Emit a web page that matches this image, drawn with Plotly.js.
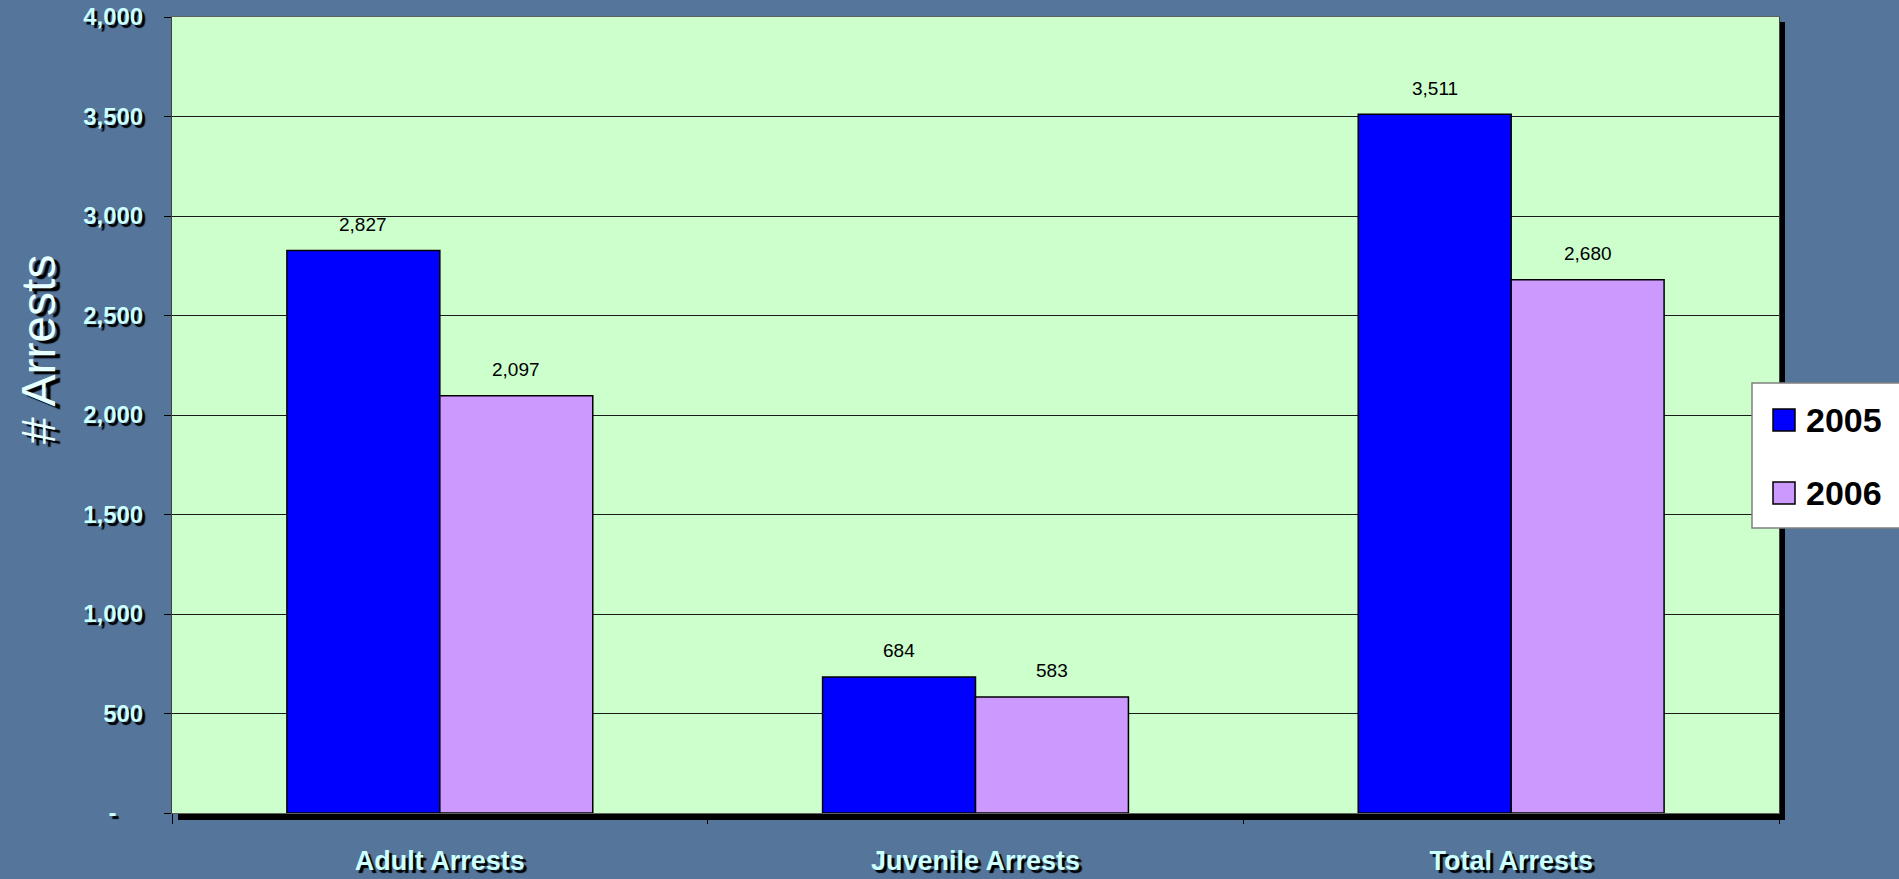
<!DOCTYPE html>
<html>
<head>
<meta charset="utf-8">
<script src="https://cdn.plot.ly/plotly-3.0.1.min.js"></script>
<style>
  html, body { margin: 0; padding: 0; background: #55759b; }
  #chart { width: 1899px; height: 879px; }
</style>
</head>
<body>
<div id="chart"></div>
<script>
// ---- data ----
const categories = ['Adult Arrests', 'Juvenile Arrests', 'Total Arrests'];
const seriesNames = ['2005', '2006'];
const arrests2005 = [2827, 684, 3511];
const arrests2006 = [2097, 583, 2680];
const seriesColors = ['#0000ff', '#cc99ff'];
const yTickVals = [0, 500, 1000, 1500, 2000, 2500, 3000, 3500, 4000];
const yTickText = ['-\u00a0\u00a0\u00a0\u00a0', '500', '1,000', '1,500', '2,000', '2,500', '3,000', '3,500', '4,000'];
const yTitle = '# Arrests';

// ---- geometry ----
const W = 1899, H = 879;
const M = { l: 172, r: 120, t: 17, b: 66 };
const plotW = W - M.l - M.r, plotH = H - M.t - M.b;
const bargap = 0.429;
const px = x => (x - M.l) / plotW;      // pixel -> paper x
const py = y => (H - M.b - y) / plotH;  // pixel -> paper y

const seriesValues = [arrests2005, arrests2006];
const fmt = v => v.toLocaleString('en-US');
const FONT = 'Liberation Sans, Arial, sans-serif';

const traces = seriesValues.map((vals, i) => ({
  type: 'bar',
  name: seriesNames[i],
  x: categories,
  y: vals,
  marker: { color: seriesColors[i], line: { color: '#000', width: 1.5 } },
  showlegend: false,
  hoverinfo: 'x+y'
}));

// data labels above bars
const catW = plotW / categories.length;
const barW = catW * (1 - bargap) / seriesValues.length;
const annotations = [];
seriesValues.forEach((vals, i) => {
  vals.forEach((v, j) => {
    annotations.push({
      x: categories[j], y: v, xref: 'x', yref: 'y',
      text: fmt(v), showarrow: false,
      xshift: (i - (seriesValues.length - 1) / 2) * barW,
      yshift: 26, yanchor: 'middle',
      font: { family: FONT, size: 19, color: '#000' }
    });
  });
});

// y-axis title (placed like the original, above the axis centre)
annotations.push({
  xref: 'paper', yref: 'paper', x: px(38), y: py(350), xanchor: 'center', yanchor: 'middle',
  text: yTitle, textangle: -90, showarrow: false,
  font: { family: FONT, size: 48, color: '#e6ffff', shadow: '-3px 5px 1px #000' }
});

const shapes = [
  // plot-area drop shadow
  { type: 'rect', xref: 'paper', yref: 'paper', x0: px(178), x1: px(1785), y0: py(820), y1: py(813.5),
    fillcolor: '#000', line: { width: 0 }, layer: 'below' },
  { type: 'rect', xref: 'paper', yref: 'paper', x0: px(1779.5), x1: px(1785), y0: py(820), y1: py(22),
    fillcolor: '#000', line: { width: 0 }, layer: 'below' },
  // legend box
  { type: 'rect', xref: 'paper', yref: 'paper', x0: px(1752), x1: px(1910), y0: py(528), y1: py(383),
    fillcolor: '#fff', line: { color: '#808080', width: 1.5 }, layer: 'above' }
];
const legendRows = [420, 493];
seriesNames.forEach((name, i) => {
  const cy = legendRows[i];
  shapes.push({ type: 'rect', xref: 'paper', yref: 'paper', x0: px(1773), x1: px(1795), y0: py(cy + 11), y1: py(cy - 11),
    fillcolor: seriesColors[i], line: { color: '#000', width: 1.5 }, layer: 'above' });
  annotations.push({ xref: 'paper', yref: 'paper', x: px(1804), y: py(cy), xanchor: 'left', yanchor: 'middle',
    text: '<b>' + name + '</b>', showarrow: false,
    font: { family: FONT, size: 34, color: '#000' } });
});

const tickShadow = '3px 3px 1px #000';
const layout = {
  width: W, height: H,
  margin: M,
  paper_bgcolor: '#55759b',
  plot_bgcolor: '#ccffcc',
  barmode: 'group',
  bargap: bargap,
  bargroupgap: 0,
  showlegend: false,
  font: { family: FONT },
  xaxis: {
    type: 'category',
    tickson: 'boundaries',
    ticks: 'outside', ticklen: 10, tickcolor: '#000', tickwidth: 1,
    ticklabelstandoff: 24,
    showline: true, linecolor: '#606060', linewidth: 1, mirror: true,
    showgrid: false,
    tickfont: { size: 27, color: '#ccffff', weight: 'bold', shadow: tickShadow },
    fixedrange: true
  },
  yaxis: {
    range: [0, 4000],
    tickvals: yTickVals, ticktext: yTickText,
    ticks: 'outside', ticklen: 7, tickcolor: '#000', tickwidth: 1,
    ticklabelstandoff: 16,
    showline: true, linecolor: '#404040', linewidth: 1, mirror: true,
    showgrid: true, gridcolor: '#1a1a1a', gridwidth: 1,
    zeroline: false,
    tickfont: { size: 24, color: '#ccffff', weight: 'bold', shadow: tickShadow },
    fixedrange: true
  },
  shapes: shapes,
  annotations: annotations
};

Plotly.newPlot('chart', traces, layout, { displayModeBar: false, staticPlot: true });
</script>
</body>
</html>
